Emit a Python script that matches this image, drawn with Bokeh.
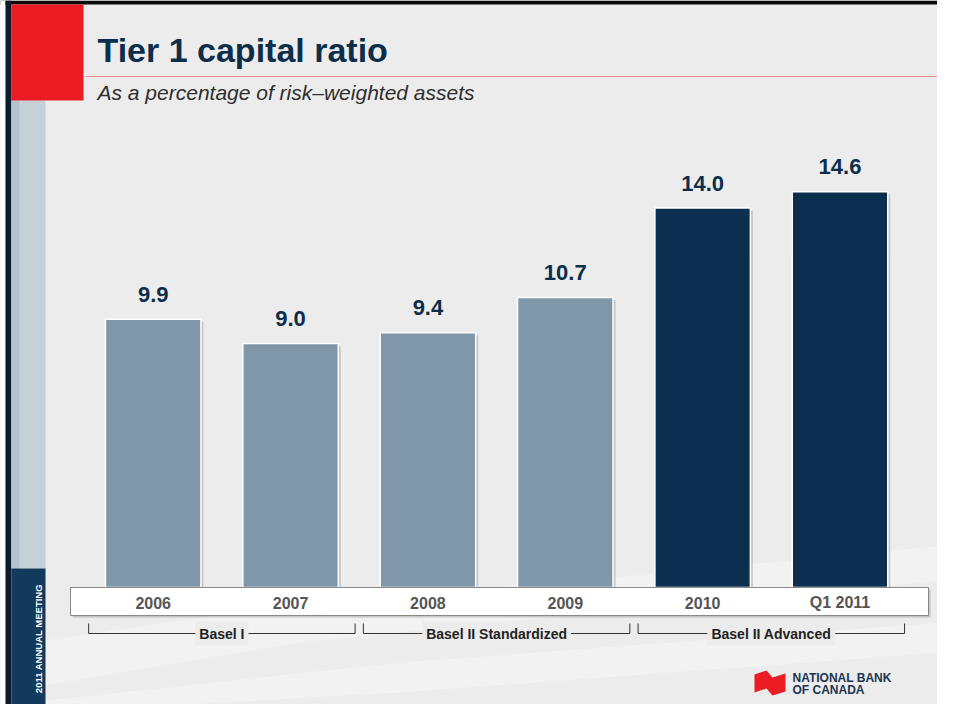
import math
from bokeh.plotting import figure
from bokeh.models import Range1d
from bokeh.core.properties import value
from bokeh.embed import file_html
from bokeh.resources import INLINE

# ---------------- data ----------------
categories = ["2006", "2007", "2008", "2009", "2010", "Q1 2011"]
ratios = [9.9, 9.0, 9.4, 10.7, 14.0, 14.6]
ratio_labels = ["9.9", "9.0", "9.4", "10.7", "14.0", "14.6"]
regimes = ["Basel I", "Basel I",
           "Basel II Standardized", "Basel II Standardized",
           "Basel II Advanced", "Basel II Advanced"]
title_text = "Tier 1 capital ratio"
subtitle_text = "As a percentage of risk\u2013weighted assets"
side_text = "2011 ANNUAL MEETING"
logo_lines = ["NATIONAL BANK", "OF CANADA"]

# ---------------- layout helpers ----------------
W, H = 937, 704
OFF = 0
X0, XS = 152.7, 137.36       # pixel of first category centre, pixels per category
Y0, YS = 587.0, 27.1         # pixel of zero line, pixels per ratio point


def X(px):
    return (px - X0) / XS


def Y(py):
    return (Y0 - py) / YS


BG = "#ececec"
NAVY = "#0d2e4b"
LIGHT_BAR = "#7f97a8"
DARK_BAR = "#0c2f4f"
FONT = value("Liberation Sans")

p = figure(width=W, height=H,
           x_range=Range1d(X(OFF), X(OFF + W)),
           y_range=Range1d(Y(OFF + H), Y(OFF)),
           output_backend="svg", toolbar_location=None,
           x_axis_location=None, y_axis_location=None,
           min_border=0, tools="")
p.xgrid.visible = False
p.ygrid.visible = False
p.outline_line_color = None
p.background_fill_color = BG
p.border_fill_color = BG

# faint background swooshes
sw1 = [(45, 640), (300, 602), (600, 578), (945, 545), (945, 580), (600, 612), (300, 642), (45, 685)]
sw2 = [(45, 700), (400, 662), (945, 622), (945, 652), (400, 692), (45, 712)]
for sw in (sw1, sw2):
    p.patch([X(a) for a, b in sw], [Y(b) for a, b in sw],
            fill_color="white", fill_alpha=0.35, line_color=None)

# frame of the slide
p.quad(left=X(0), right=X(W), top=Y(0), bottom=Y(4), fill_color="#0a0a0a", line_color=None)
p.quad(left=X(0), right=X(5), top=Y(0), bottom=Y(H), fill_color="white", line_color=None)
p.quad(left=X(5), right=X(11), top=Y(0), bottom=Y(H), fill_color="#0a1b2c", line_color=None)

# left decorations
p.quad(left=X(11), right=X(45), top=Y(100), bottom=Y(568), fill_color="#c5d0d9", line_color=None)
p.quad(left=X(11), right=X(19), top=Y(100), bottom=Y(568), fill_color="#b6c3ce", line_color=None)
p.quad(left=X(11), right=X(45), top=Y(568), bottom=Y(706), fill_color="#123a5c", line_color=None)
p.quad(left=X(11), right=X(83), top=Y(4), bottom=Y(100), fill_color="#ec1c24", line_color=None)

p.text(x=[X(38)], y=[Y(638)], text=[side_text], angle=math.pi / 2,
       text_align="center", text_baseline="middle", text_font=FONT,
       text_font_style="bold", text_font_size="9.5px", text_color="white")

# title block
p.text(x=[X(97)], y=[Y(49)], text=[title_text], text_align="left",
       text_baseline="alphabetic", text_font=FONT, text_font_style="bold",
       text_font_size="34px", text_color=NAVY)
p.segment(x0=[X(85)], y0=[Y(76)], x1=[X(940)], y1=[Y(76)],
          line_color="#e08a8a", line_width=1)
p.text(x=[X(97)], y=[Y(92)], text=[subtitle_text], text_align="left",
       text_baseline="alphabetic", text_font=FONT, text_font_style="italic",
       text_font_size="21px", text_color="#2e2e2e")

# bars
idx = list(range(len(categories)))
bar_colors = [DARK_BAR if r == "Basel II Advanced" else LIGHT_BAR for r in regimes]
bw = 95.5 / XS
p.vbar(x=[i + 2.5 / XS for i in idx], top=[v - 2.5 / YS for v in ratios], bottom=0,
       width=bw, fill_color="#9a9a9a", fill_alpha=0.45, line_color=None)
p.vbar(x=idx, top=ratios, bottom=0, width=bw, fill_color=bar_colors,
       line_color="white", line_width=1.5)
p.text(x=idx, y=ratios, text=ratio_labels, y_offset=-25, text_align="center",
       text_baseline="middle", text_font=FONT, text_font_style="bold",
       text_font_size="22px", text_color=NAVY)

# category band
p.quad(left=X(72), right=X(930), top=Y(589), bottom=Y(617),
       fill_color="#9a9a9a", fill_alpha=0.5, line_color=None)
p.quad(left=X(70), right=X(928), top=Y(587), bottom=Y(615),
       fill_color="white", line_color="#8a8a8a", line_width=1)
p.text(x=idx, y=[Y(602)] * len(idx), text=categories, text_align="center",
       text_baseline="middle", text_font=FONT, text_font_style="bold",
       text_font_size="16px", text_color="#555555")

# regime brackets
groups = []
for i, r in enumerate(regimes):
    if groups and groups[-1][0] == r:
        groups[-1][2] = i
    else:
        groups.append([r, i, i])
tick_top, tick_bot = Y(623), Y(633)
for name, a, b in groups:
    left, right = a - 0.47, b + 0.47
    p.segment(x0=[left, right, left], y0=[tick_top, tick_top, tick_bot],
              x1=[left, right, right], y1=[tick_bot, tick_bot, tick_bot],
              line_color="#333333", line_width=1)
    p.text(x=[(a + b) / 2], y=[tick_bot], text=[name], text_align="center",
           text_baseline="middle", text_font=FONT, text_font_style="bold",
           text_font_size="14px", text_color="#222222",
           background_fill_color=BG, padding=4)

# logo
flag = [(754, 674), (766, 670), (772, 677), (785, 673), (785, 691), (772, 695), (766, 688), (754, 692)]
p.patch([X(a) for a, b in flag], [Y(b) for a, b in flag], fill_color="#ec1c24", line_color=None)
for k, line in enumerate(logo_lines):
    p.text(x=[X(792)], y=[Y(677 + 12 * k)], text=[line], text_align="left",
           text_baseline="middle", text_font=FONT, text_font_style="bold",
           text_font_size="12px", text_color="#1b3553")

open("out.html", "w").write(file_html(p, INLINE))
